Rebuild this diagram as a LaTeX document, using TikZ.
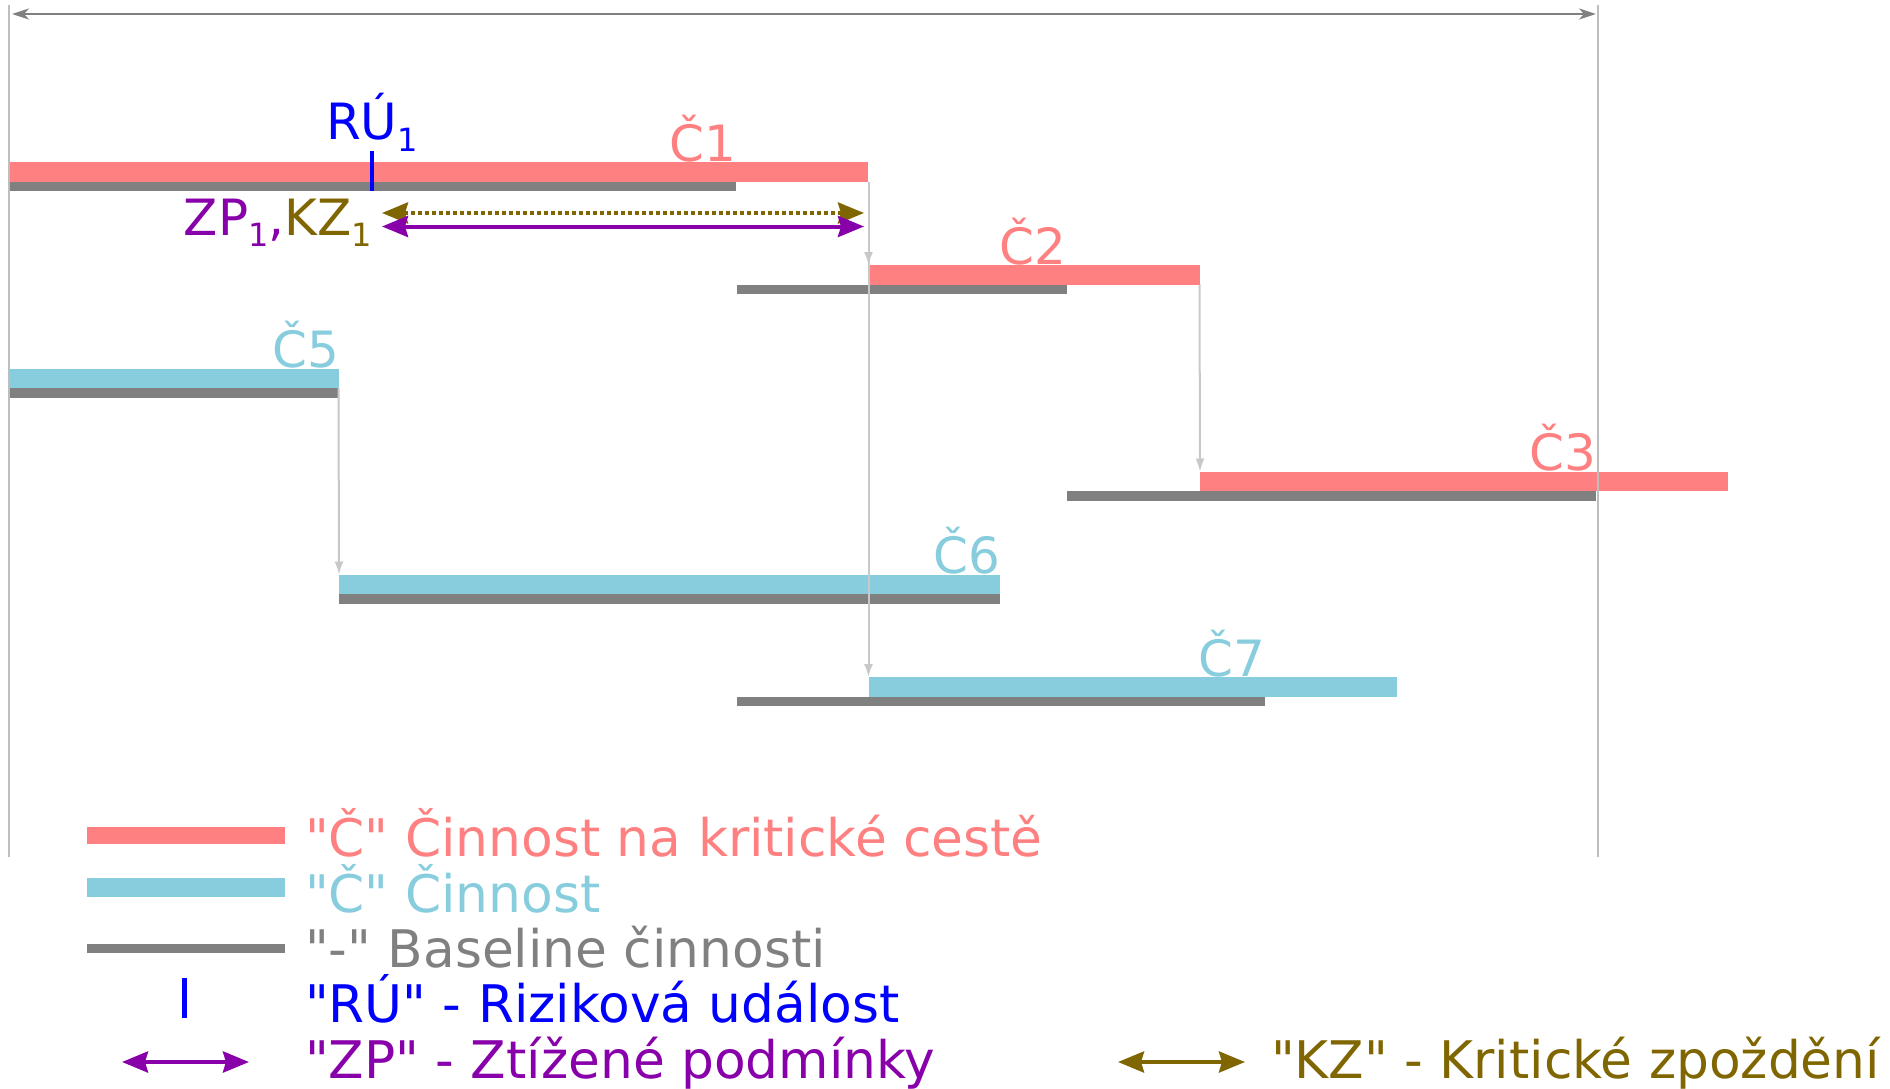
\documentclass[tikz,border=0pt]{standalone}
\usepackage{fontspec}
\setmainfont[Ligatures=TeXOff]{DejaVu Sans}
\usetikzlibrary{arrows.meta}
\definecolor{critred}{HTML}{FF8080}
\definecolor{actblue}{HTML}{87CDDE}
\definecolor{basegray}{HTML}{808080}
\definecolor{conngray}{HTML}{C8C8C8}
\definecolor{framegray}{HTML}{BEBEBE}
\definecolor{riskblue}{HTML}{0000FF}
\definecolor{zppurple}{HTML}{8800AA}
\definecolor{kzolive}{HTML}{806600}
\newcommand\lowsub[1]{\raisebox{-11pt}{\fontsize{32}{32}\selectfont #1}}
\tikzset{
  bar/.style={rectangle, inner sep=0pt, outer sep=0pt, minimum height=19.5pt, anchor=north west},
  critbar/.style={bar, fill=critred},
  actbar/.style={bar, fill=actblue},
  basebar/.style={rectangle, inner sep=0pt, outer sep=0pt, minimum height=9.5pt, anchor=north west, fill=basegray},
  tag/.style={font=\fontsize{50}{50}\selectfont, inner sep=0pt, outer sep=0pt, anchor=base east},
  legtext/.style={font=\fontsize{51.8}{51.8}\selectfont, inner sep=0pt, outer sep=0pt, anchor=base west},
  conn/.style={draw=conngray, line width=2pt, -{Latex[length=13pt,width=9pt]}},
  frameline/.style={draw=framegray, line width=2pt},
  bigtip/.tip={Stealth[length=26pt,width=21pt,inset=3pt]},
  zparrow/.style={draw=zppurple, line width=4pt, bigtip-bigtip},
  kzarrow/.style={draw=kzolive, line width=4pt, bigtip-bigtip},
  risktick/.style={draw=riskblue, line width=4.5pt},
}
\begin{document}
\begin{tikzpicture}[x=1pt,y=-1pt]
\useasboundingbox (0,0) rectangle (1890,1089);
% activity bars
\node[critbar, minimum width=859pt] (c1) at (9,162) {};
\node[basebar, minimum width=727pt] (b1) at (9,181.5) {};
\node[critbar, minimum width=331pt] (c2) at (868.5,265) {};
\node[basebar, minimum width=330pt] (b2) at (736.5,284.5) {};
\node[critbar, minimum width=528pt] (c3) at (1200,471.5) {};
\node[basebar, minimum width=529pt] (b3) at (1067,491) {};
\node[actbar, minimum width=329.5pt] (c5) at (9,368.5) {};
\node[basebar, minimum width=328.5pt] (b5) at (9,388) {};
\node[actbar, minimum width=661pt] (c6) at (339,574.5) {};
\node[basebar, minimum width=661pt] (b6) at (339,594) {};
\node[actbar, minimum width=528.5pt] (c7) at (868.5,677) {};
\node[basebar, minimum width=528.5pt] (b7) at (736.5,696.5) {};
% labels
\node[tag, text=critred] (l1) at (b1.north east) [yshift=20.5pt] {Č1};
\node[tag, text=critred] (l2) at (b2.north east) [yshift=20.5pt] {Č2};
\node[tag, text=critred] (l3) at (b3.north east) [yshift=20.5pt] {Č3};
\node[tag, text=actblue] (l5) at (b5.north east) [yshift=20.5pt,xshift=1.5pt] {Č5};
\node[tag, text=actblue] (l6) at (b6.north east) [yshift=20.5pt] {Č6};
\node[tag, text=actblue] (l7) at (b7.north east) [yshift=20.5pt] {Č7};
% frame
\coordinate (ftl) at (9,5);
\coordinate (fbl) at (9,857);
\coordinate (ftr) at (1598,5);
\coordinate (fbr) at (1598,857);
\coordinate (ta) at (12,14);
\coordinate (tb) at (1596,14);
% connectors
\coordinate (j1) at (868.5,181.5);
\draw[conn] (j1) -- (c2.north west);
\draw[conn] (j1) -- (c7.north west);
\draw[conn] (c2.south east) -- (c3.north west);
\draw[conn] (c5.south east) -- (c6.north west);
\draw[frameline] (ftl) -- (fbl);
\draw[frameline] (ftr) -- (fbr);
\draw[draw=basegray, line width=2.5pt, {Stealth[length=17pt,width=11pt,inset=5pt]}-{Stealth[length=17pt,width=11pt,inset=5pt]}] (ta) -- (tb);
% risk event
\coordinate (rt) at (372,151.5);
\coordinate (rb) at (372,191);
\draw[risktick] (rt) -- (rb);
\node[legtext, font=\fontsize{50}{50}\selectfont, text=riskblue] (ru) at (326,140) {RÚ\lowsub{1}};
% ZP / KZ arrows
\coordinate (kza) at (382,213);
\coordinate (kzb) at (864,213);
\coordinate (zpa) at (382,226.5);
\coordinate (zpb) at (864,226.5);
\draw[kzarrow, dash pattern=on 4pt off 3pt] (kza) -- (kzb);
\draw[zparrow] (zpa) -- (zpb);
\node[tag] (zpkz) at (372,235) {\textcolor{zppurple}{ZP\lowsub{1},}\textcolor{kzolive}{KZ\lowsub{1}}};
% legend
\node[critbar, minimum width=197.5pt, minimum height=17.6pt] (lg1) at (87,826.7) {};
\node[actbar, minimum width=197.5pt, minimum height=19pt] (lg2) at (87,877.7) {};
\node[basebar, minimum width=197.5pt, minimum height=9.3pt] (lg3) at (87,944) {};
\coordinate (lrt) at (184.5,978);
\coordinate (lrb) at (184.5,1018);
\draw[risktick] (lrt) -- (lrb);
\coordinate (lza) at (122,1062);
\coordinate (lzb) at (249,1062);
\draw[zparrow] (lza) -- (lzb);
\coordinate (lka) at (1118,1062);
\coordinate (lkb) at (1245,1062);
\draw[kzarrow] (lka) -- (lkb);
\node[legtext, text=critred] (t1) at (305,856.7) {"Č" Činnost na kritické cestě};
\node[legtext, text=actblue] (t2) at (305,912.7) {"Č" Činnost};
\node[legtext, text=basegray] (t3) at (305,967.7) {"-" Baseline činnosti};
\node[legtext, text=riskblue] (t4) at (305,1022.7) {"RÚ" - Riziková událost};
\node[legtext, text=zppurple] (t5) at (305,1078) {"ZP" - Ztížené podmínky};
\node[legtext, text=kzolive] (t6) at (1271,1078) {"KZ" - Kritické zpoždění};
\end{tikzpicture}
\end{document}
